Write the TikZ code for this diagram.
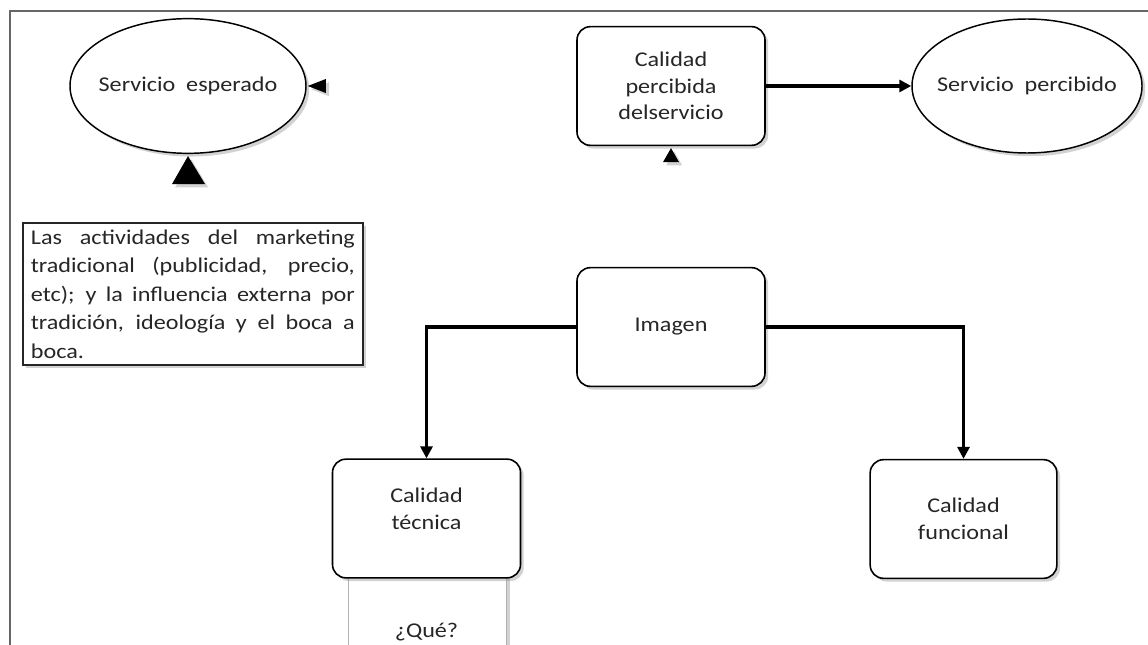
\documentclass[tikz,border=0pt]{standalone}
\usepackage{fontspec}
\setmainfont{Carlito}[FakeStretch=1.15]
\usetikzlibrary{shadows,arrows.meta,shapes.geometric}
\begin{document}
\begin{tikzpicture}[x=0.75pt,y=-0.75pt,
  shd/.style={drop shadow={opacity=0.35,shadow xshift=2.4pt,shadow yshift=-2.4pt}},
  txt/.style={text=black!85,font=\fontsize{15.75}{20}\selectfont,align=center},
  rbox/.style={draw=black,line width=1.2pt,rounded corners=10pt,fill=white,shd,minimum width=141pt,minimum height=89pt,txt,inner sep=0pt},
  oval/.style={ellipse,draw=black,line width=1.1pt,fill=white,shd,txt,inner xsep=-30pt,inner ysep=0pt},
  conn/.style={line width=2.6pt,-{Triangle[length=9pt,width=9pt]}},
  tri/.style={fill=black,shd}
]
\useasboundingbox (0,0) rectangle (1148,645);
\clip (0,0) rectangle (1148,645);
\fill[white] (0,0) rectangle (1148,645);
\draw[black!60,line width=0.9pt] (10,700) -- (10,11) -- (1200,11);

% Servicio esperado
\node[oval,minimum width=177pt,minimum height=101pt] (se) at (188,86) {Servicio\ \ esperado};
\fill[tri] ([xshift=0.8pt]se.east) -- ++(18,-7) -- ++(0,14) -- cycle;
\fill[tri] ([yshift=-1.5pt]se.south) -- ++(17,28) -- ++(-33,0) -- cycle;

% Calidad percibida del servicio
\node[rbox] (cp) at (671,86) {Calidad\\percibida\\delservicio};
\fill[tri] ([yshift=-1.5pt]cp.south) -- ++(8,14) -- ++(-16,0) -- cycle;

% Servicio percibido
\node[oval,minimum width=172.5pt,minimum height=100.5pt] (sp) at (1027,86) {Servicio\ \ percibido};
\draw[conn] (cp.east) -- (sp.west);

% Text box
\node[draw=black!85,line width=1.3pt,fill=white,shd,text=black!85,
      font=\fontsize{15.75}{21.4}\selectfont,text width=243pt,align=justify,
      inner xsep=6pt,inner ysep=5pt,anchor=north west] (tb) at (22,222)
 {Las actividades del marketing\linebreak tradicional (publicidad, precio,\linebreak etc); y la influencia externa por\linebreak tradición, ideología y el boca a\linebreak boca.};

% Imagen
\node[rbox] (im) at (671,327) {Imagen};

% Qué box (partially visible)
\node[draw=black!30,line width=0.6pt,fill=white,shd,minimum width=119pt,minimum height=120pt,anchor=north,inner sep=0pt] (q) at (427.5,570) {};
\node[txt] (qt) at (426.5,632) {¿Qué?};

% Calidad técnica
\node[rbox] (ct) at (426.5,518.5) {};
\node[txt] (ctt) at (426.5,509) {Calidad\\técnica};

% Calidad funcional
\node[rbox,minimum width=140pt] (cf) at (963.5,519) {Calidad\\funcional};

% Connectors
\draw[conn] (im.west) -| (ct.north);
\draw[conn] (im.east) -| (cf.north);
\end{tikzpicture}
\end{document}
